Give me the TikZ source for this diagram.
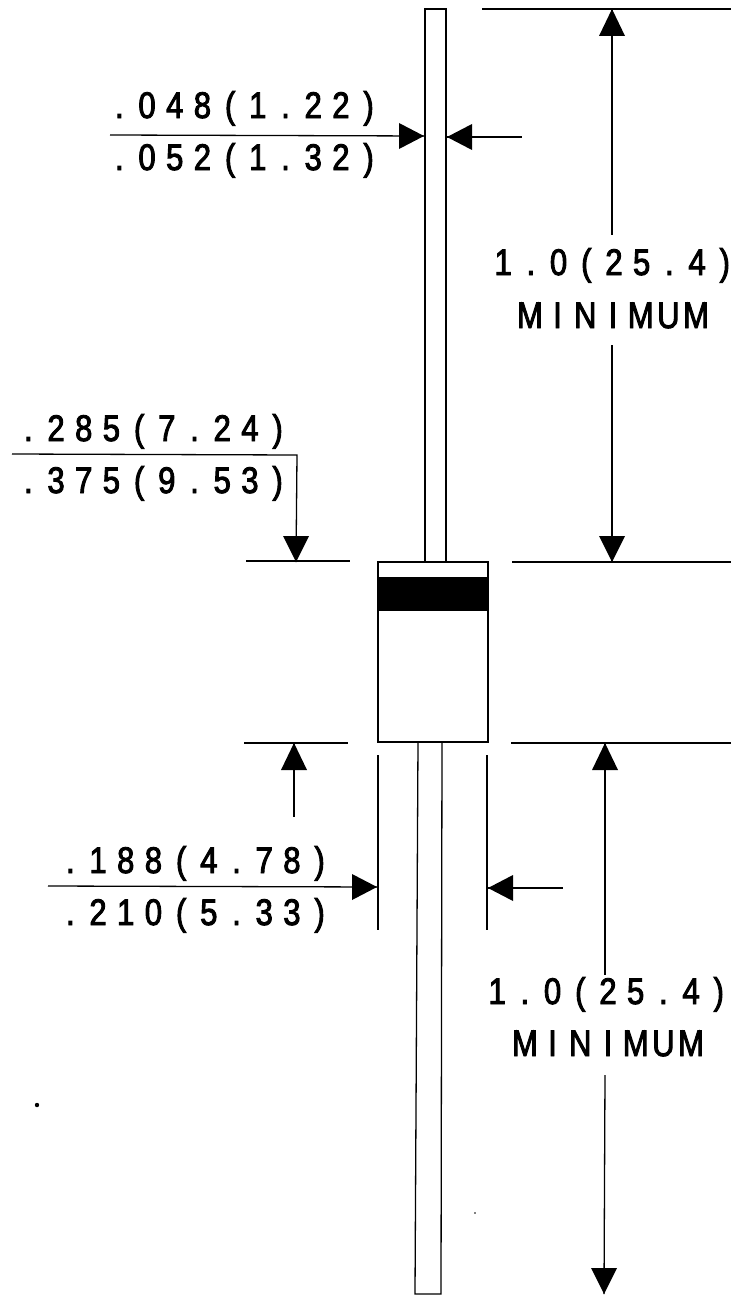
\documentclass[tikz,border=0pt]{standalone}
\usepackage{fontspec}
\setmainfont[FakeStretch=0.84,FakeBold=2.5]{Liberation Sans}
\makeatletter
\newcommand{\pitched}[2]{\@tfor\pch:=#2\do{\makebox[#1][c]{\pch}}}
\makeatother
\tikzset{
  x=1pt,y=-1pt,
  ln/.style={line width=1.3pt,black},
  dim/.style={line width=1.3pt,black,line cap=butt},
  tipd/.style={fill=black,draw=none},
  lab/.style={inner sep=0pt,font=\fontsize{37}{37}\selectfont,anchor=base},
}
\begin{document}
\begin{tikzpicture}
\useasboundingbox (0,0) rectangle (731,1295);
% body and leads
\coordinate (ta) at (425,9); \coordinate (tb) at (446,562);
\coordinate (ba) at (418,742); \coordinate (bb) at (442,742);
\coordinate (bc) at (441,1294); \coordinate (bd) at (415,1294);
\draw[ln] (ta) rectangle (tb);
\draw[ln] (ba) -- (bb) -- (bc) -- (bd) -- cycle;
\draw[ln] (378,562) rectangle (488,742);
\fill (378,577) rectangle (488,611);
% extension lines
\coordinate (e1a) at (482,9);   \coordinate (e1b) at (731,9);
\coordinate (e2a) at (512,562); \coordinate (e2b) at (731,562);
\coordinate (e3a) at (511,743); \coordinate (e3b) at (731,743);
\coordinate (e4a) at (246,561); \coordinate (e4b) at (350,561);
\coordinate (e5a) at (244,743); \coordinate (e5b) at (348,743);
\coordinate (e6a) at (378,755); \coordinate (e6b) at (378,930);
\coordinate (e7a) at (487,755); \coordinate (e7b) at (487,930);
\foreach \s/\e in {e1a/e1b,e2a/e2b,e3a/e3b,e4a/e4b,e5a/e5b,e6a/e6b,e7a/e7b}
  \draw[ln] (\s) -- (\e);
% labels
\node[lab] (t1) at (244,118) {\pitched{27.7pt}{.048(1.22)}};
\node[lab] (t2) at (244,170) {\pitched{27.7pt}{.052(1.32)}};
\node[lab] (t3) at (153,441) {\pitched{27.7pt}{.285(7.24)}};
\node[lab] (t4) at (153,493) {\pitched{27.7pt}{.375(9.53)}};
\node[lab] (t5) at (195,873) {\pitched{27.7pt}{.188(4.78)}};
\node[lab] (t6) at (195,925) {\pitched{27.7pt}{.210(5.33)}};
\node[lab] (t7) at (614,275) {\pitched{27.7pt}{1.0(25.4)}};
\node[lab] (t8) at (613,328) {\pitched{27.7pt}{MINIMUM}};
\node[lab] (t9) at (608,1004) {\pitched{27.7pt}{1.0(25.4)}};
\node[lab] (t10) at (608,1056) {\pitched{27.7pt}{MINIMUM}};
% dimension shafts
\coordinate (a1) at (612,9);   \coordinate (a1e) at (612,235);
\coordinate (a2) at (612,562); \coordinate (a2e) at (612,345);
\coordinate (a3) at (605,743); \coordinate (a3e) at (605,975);
\coordinate (a4) at (604,1294);\coordinate (a4e) at (605,1075);
\coordinate (a5) at (296,562); \coordinate (a5k) at (297,455); \coordinate (a5e) at (12,454);
\coordinate (a6) at (294,743); \coordinate (a6e) at (294,817);
\coordinate (a7) at (424,136); \coordinate (a7e) at (110,135);
\coordinate (a8) at (447,137); \coordinate (a8e) at (522,137);
\coordinate (a9) at (377,887); \coordinate (a9e) at (48,886);
\coordinate (a10) at (488,888); \coordinate (a10e) at (563,888);
\foreach \s/\e in {a1/a1e,a2/a2e,a3/a3e,a4/a4e,a6/a6e,a7/a7e,a8/a8e,a9/a9e,a10/a10e}
  \draw[dim] (\s) -- (\e);
\draw[dim] (a5) -- (a5k) -- (a5e);
% arrowheads
\foreach \c in {a1,a3,a6}
  \fill[tipd] (\c) -- ++(13,27) -- ++(-26,0) -- cycle;
\foreach \c in {a2,a4,a5}
  \fill[tipd] (\c) -- ++(13,-26) -- ++(-26,0) -- cycle;
\foreach \c in {a7,a9}
  \fill[tipd] (\c) -- ++(-25,-13) -- ++(0,26) -- cycle;
\foreach \c in {a8,a10}
  \fill[tipd] (\c) -- ++(25,-13) -- ++(0,26) -- cycle;
% specks
\fill (37,1105) circle (2.2pt);
\fill (475,1213) circle (0.8pt);
\end{tikzpicture}
\end{document}
